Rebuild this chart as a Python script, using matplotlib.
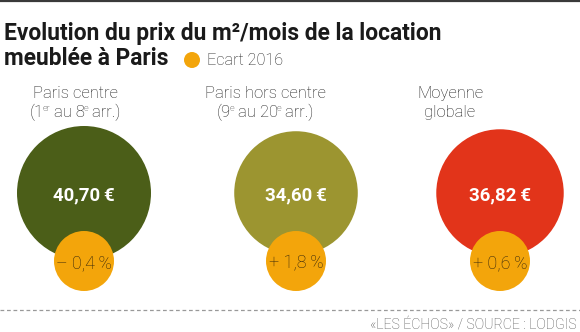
import matplotlib
matplotlib.use("Agg")
import matplotlib.pyplot as plt
from matplotlib.patches import Circle
import numpy as np

plt.rcParams['font.family'] = ['Roboto', 'DejaVu Sans']

# Data
cat_line1 = ["Paris centre", "Paris hors centre", "Moyenne"]
# second lines as (text, superscript?) pieces
cat_line2 = [
    [("(1", False), ("er", True), (" au 8", False), ("e", True), (" arr.)", False)],
    [("(9", False), ("e", True), (" au 20", False), ("e", True), (" arr.)", False)],
    [("globale", False)],
]
prices = [40.70, 34.60, 36.82]
price_labels = ["40,70\u2009€", "34,60\u2009€", "36,82\u2009€"]
changes = [-0.4, 1.8, 0.6]
change_labels = ["– 0,4\u2009%", "+ 1,8\u2009%", "+ 0,6\u2009%"]
colors = ["#4b5e18", "#9c9530", "#e2341a"]
orange = "#f3a50b"

W, H = 580, 332
fig = plt.figure(figsize=(W / 100, H / 100), dpi=100)
ax = fig.add_axes([0, 0, 1, 1])
ax.set_xlim(0, W)
ax.set_ylim(H, 0)
ax.set_aspect('equal')
ax.axis('off')
fig.canvas.draw()
renderer = fig.canvas.get_renderer()

# top rule
ax.plot([0, W], [0.8, 0.8], color="#3a3a3a", lw=1.6, solid_capstyle='butt')

ax.text(4, 40, "Evolution du prix du m²/mois de la location", fontsize=16.4,
        fontweight='bold', color="#1a1a1a", va='baseline', ha='left')
ax.text(4, 65, "meublée à Paris", fontsize=16.4, fontweight='bold',
        color="#1a1a1a", va='baseline', ha='left')
ax.add_patch(Circle((192, 60), 8, color=orange, lw=0))
ax.text(207, 65, "Ecart 2016", fontsize=11.7, fontweight='light',
        color="#222222", va='baseline', ha='left')


def text_width(s, size):
    t = ax.text(0, 0, s, fontsize=size, fontweight='light')
    bb = t.get_window_extent(renderer)
    t.remove()
    return bb.width


def pieces_text(xc, yb, pieces, size):
    ssize = size * 0.55
    widths = [text_width(s, ssize if sup else size) - (1.2 if sup else 0)
              for s, sup in pieces]
    x = xc - sum(widths) / 2
    for (s, sup), w in zip(pieces, widths):
        ax.text(x - (1.0 if sup else 0), yb - (6 if sup else 0), s,
                fontsize=ssize if sup else size,
                fontweight='light', color="#1e1e1e", ha='left', va='baseline')
        x += w


cx = [84, 296, 500]
lx = [75, 265, 450]
cy = 193
rmax = 67
sy = 261
sr = 30
for i in range(3):
    r = rmax * np.sqrt(prices[i] / max(prices))
    ax.add_patch(Circle((cx[i], cy), r, color=colors[i], lw=0))
    ax.add_patch(Circle((cx[i], sy), sr, color=orange, lw=0))
    ax.text(cx[i], cy, price_labels[i], fontsize=13.4, fontweight='bold',
            color="white", ha='center', va='center_baseline')
    ax.text(cx[i], sy, change_labels[i], fontsize=13, fontweight='light',
            color="#33250c", ha='center', va='center_baseline')
    ax.text(lx[i], 98, cat_line1[i], fontsize=12, fontweight='light',
            color="#1e1e1e", ha='center', va='baseline')
    pieces_text(lx[i], 117, cat_line2[i], 12)

ax.plot([0, W], [310, 310], color="#999999", lw=0.9, ls=(0, (3, 2.2)))
ax.text(577, 329, "«LES ÉCHOS» / SOURCE : LODGIS", fontsize=10.2,
        fontweight='light', color="#555555", ha='right', va='baseline')

fig.savefig("out.png", dpi=100)
